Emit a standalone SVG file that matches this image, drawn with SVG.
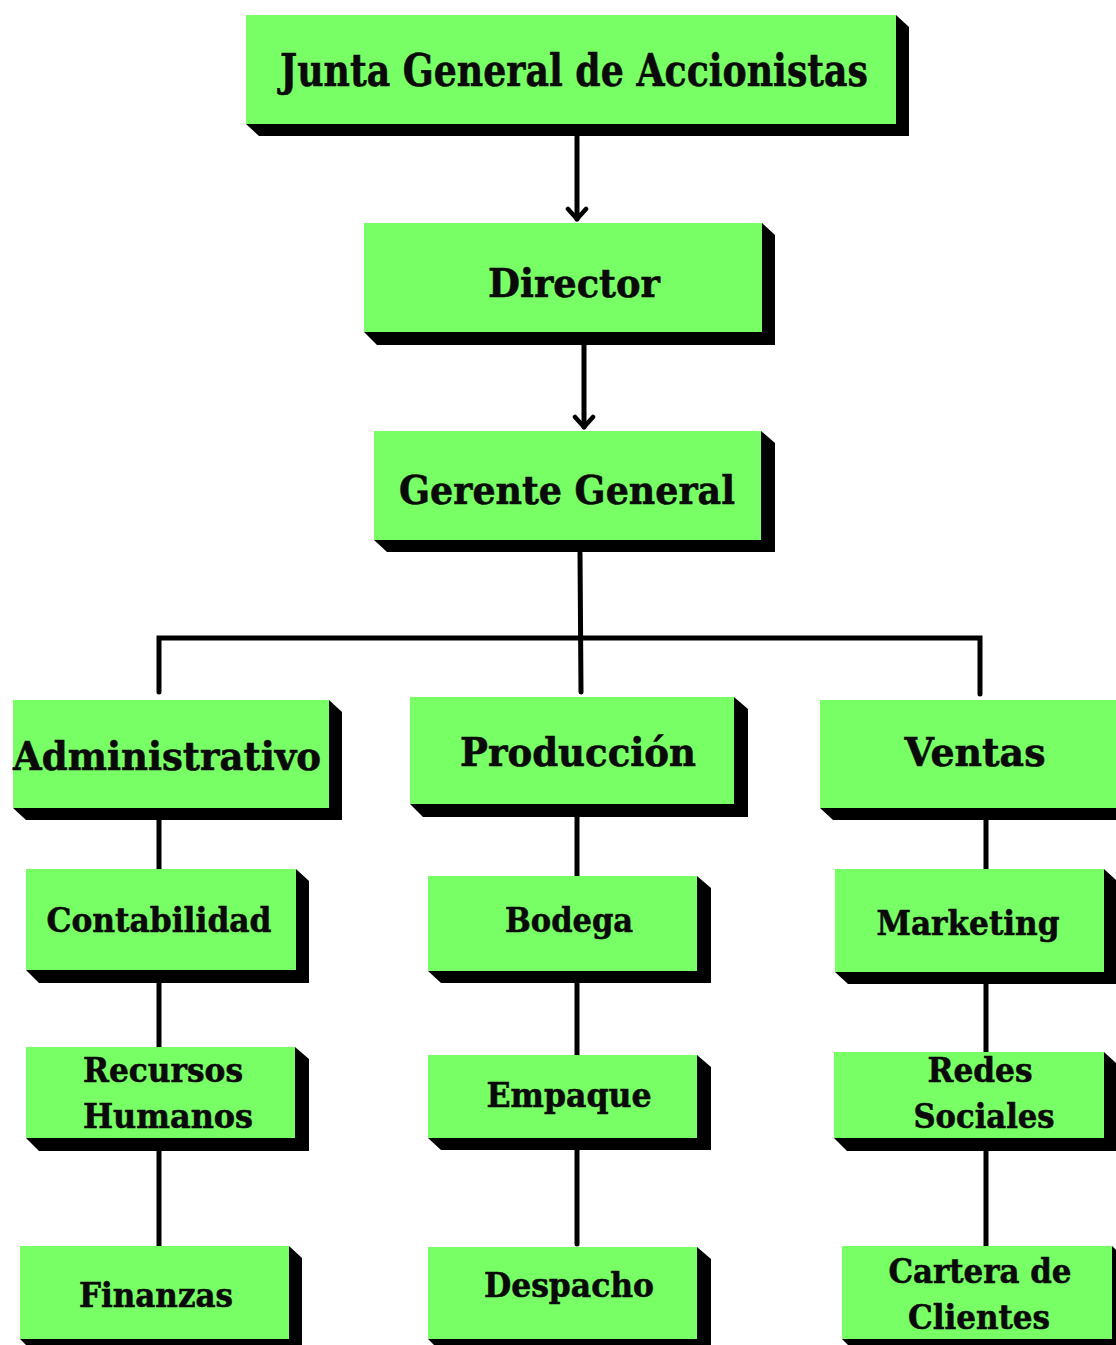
<svg xmlns="http://www.w3.org/2000/svg" width="1116" height="1345" viewBox="0 0 1116 1345">
<style>
.f{fill:#78FF66}
.s{fill:#000}
.t{font-family:"DejaVu Serif","Liberation Serif",serif;font-weight:bold;fill:#0a0a0a;stroke:#0a0a0a;stroke-width:0.6;text-anchor:middle}
.c{stroke:#000;stroke-width:5;fill:none;stroke-linecap:round}
</style>
<defs>
<marker id="ah" viewBox="0 0 24 20" refX="12" refY="17" markerWidth="24" markerHeight="20" markerUnits="userSpaceOnUse" orient="0">
<path d="M3 7 L12 17 L21 7" fill="none" stroke="#000" stroke-width="4.5" stroke-linecap="round" stroke-linejoin="round"/>
</marker>
</defs>
<rect width="1116" height="1345" fill="#fff"/>
<g id="connectors">
<path class="c" d="M577 137 V219" marker-end="url(#ah)"/>
<path class="c" d="M584 345 V427" marker-end="url(#ah)"/>
<path class="c" d="M580 553 L581 692"/>
<path class="c" d="M159 692 V638 H980 V694"/>
<path class="c" d="M159 820 V869"/>
<path class="c" d="M159 983 V1047"/>
<path class="c" d="M159 1151 V1246"/>
<path class="c" d="M577 817 V876"/>
<path class="c" d="M577 983 V1055"/>
<path class="c" d="M577 1150 V1244"/>
<path class="c" d="M986 820 V869"/>
<path class="c" d="M986 983 V1052"/>
<path class="c" d="M986 1151 V1246"/>
</g>
<g id="junta">
<polygon class="s" points="896,15 909,27 909,136 259,136 246,124"/>
<rect class="f" x="246" y="15" width="650" height="109"/>
<text class="t" x="574" y="86" font-size="44" textLength="588" lengthAdjust="spacingAndGlyphs">Junta General de Accionistas</text>
</g>
<g id="director">
<polygon class="s" points="762,223 775,235 775,345 377,345 364,332"/>
<rect class="f" x="364" y="223" width="398" height="109"/>
<text class="t" x="574" y="297" font-size="40" textLength="172" lengthAdjust="spacingAndGlyphs">Director</text>
</g>
<g id="gerente">
<polygon class="s" points="761,431 775,443 775,552 387,552 374,540"/>
<rect class="f" x="374" y="431" width="387" height="109"/>
<text class="t" x="567" y="504" font-size="40" textLength="336" lengthAdjust="spacingAndGlyphs">Gerente General</text>
</g>
<g id="administrativo">
<polygon class="s" points="329,700 342,712 342,820 26,820 13,808"/>
<rect class="f" x="13" y="700" width="316" height="108"/>
<text class="t" x="167" y="770" font-size="39" textLength="308" lengthAdjust="spacingAndGlyphs">Administrativo</text>
</g>
<g id="produccion">
<polygon class="s" points="734,697 748,709 748,817 423,817 410,804"/>
<rect class="f" x="410" y="697" width="324" height="107"/>
<text class="t" x="578" y="766" font-size="39" textLength="236" lengthAdjust="spacingAndGlyphs">Producción</text>
</g>
<g id="ventas">
<polygon class="s" points="1130,700 1143,712 1143,820 833,820 820,808"/>
<rect class="f" x="820" y="700" width="310" height="108"/>
<text class="t" x="975" y="766" font-size="39" textLength="141" lengthAdjust="spacingAndGlyphs">Ventas</text>
</g>
<g id="contabilidad">
<polygon class="s" points="296,869 309,881 309,983 39,983 26,970"/>
<rect class="f" x="26" y="869" width="270" height="101"/>
<text class="t" x="159" y="932" font-size="33" textLength="225" lengthAdjust="spacingAndGlyphs">Contabilidad</text>
</g>
<g id="bodega">
<polygon class="s" points="697,876 711,888 711,983 441,983 428,971"/>
<rect class="f" x="428" y="876" width="269" height="95"/>
<text class="t" x="569" y="932" font-size="33" textLength="128" lengthAdjust="spacingAndGlyphs">Bodega</text>
</g>
<g id="marketing">
<polygon class="s" points="1104,869 1117,881 1117,984 848,984 835,972"/>
<rect class="f" x="835" y="869" width="269" height="103"/>
<text class="t" x="968" y="935" font-size="33" textLength="183" lengthAdjust="spacingAndGlyphs">Marketing</text>
</g>
<g id="recursos">
<polygon class="s" points="295,1047 309,1059 309,1151 39,1151 26,1138"/>
<rect class="f" x="26" y="1047" width="269" height="91"/>
<text class="t" x="163" y="1082" font-size="33" textLength="160" lengthAdjust="spacingAndGlyphs">Recursos</text>
<text class="t" x="168" y="1128" font-size="33" textLength="170" lengthAdjust="spacingAndGlyphs">Humanos</text>
</g>
<g id="empaque">
<polygon class="s" points="697,1055 711,1067 711,1150 441,1150 428,1138"/>
<rect class="f" x="428" y="1055" width="269" height="83"/>
<text class="t" x="569" y="1107" font-size="33" textLength="165" lengthAdjust="spacingAndGlyphs">Empaque</text>
</g>
<g id="redes">
<polygon class="s" points="1104,1052 1117,1064 1117,1151 847,1151 834,1138"/>
<rect class="f" x="834" y="1052" width="270" height="86"/>
<text class="t" x="980" y="1082" font-size="33" textLength="105" lengthAdjust="spacingAndGlyphs">Redes</text>
<text class="t" x="984" y="1128" font-size="33" textLength="141" lengthAdjust="spacingAndGlyphs">Sociales</text>
</g>
<g id="finanzas">
<polygon class="s" points="289,1246 302,1258 302,1352 33,1352 20,1339"/>
<rect class="f" x="20" y="1246" width="269" height="93"/>
<text class="t" x="156" y="1307" font-size="33" textLength="154" lengthAdjust="spacingAndGlyphs">Finanzas</text>
</g>
<g id="despacho">
<polygon class="s" points="697,1247 711,1259 711,1352 441,1352 428,1339"/>
<rect class="f" x="428" y="1247" width="269" height="92"/>
<text class="t" x="569" y="1297" font-size="33" textLength="170" lengthAdjust="spacingAndGlyphs">Despacho</text>
</g>
<g id="cartera">
<polygon class="s" points="1112,1246 1125,1258 1125,1352 855,1352 842,1339"/>
<rect class="f" x="842" y="1246" width="270" height="93"/>
<text class="t" x="980" y="1283" font-size="33" textLength="183" lengthAdjust="spacingAndGlyphs">Cartera de</text>
<text class="t" x="979" y="1329" font-size="33" textLength="142" lengthAdjust="spacingAndGlyphs">Clientes</text>
</g>
</svg>
